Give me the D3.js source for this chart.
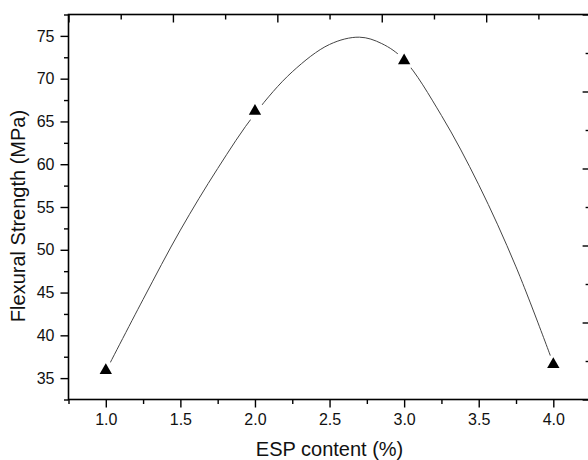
<!DOCTYPE html>
<html lang="en">
<head>
  <meta charset="UTF-8">
  <title>Flexural Strength</title>
  <style>
    body, html {
      margin: 0;
      padding: 0;
      background-color: #fff;
    }
    #svg text {
      font-family: 'Liberation Sans', Arial, Helvetica, sans-serif;
      fill: #111;
    }
  </style>
</head>
<body>
  <svg id="svg" width="588" height="460"></svg>
  <script src="https://d3js.org/d3.v7.min.js"></script>
  <script>
    // measured points (ESP content %, flexural strength MPa)
    const espContent = [1.0, 2.0, 3.0, 4.0]
    const strength = [35.9, 66.2, 72.1, 36.6]

    // smooth fit line
    const fitX = [1.0, 1.25, 1.5, 1.75, 2.0, 2.25, 2.5, 2.7, 2.85, 3.0, 3.25, 3.5, 3.75, 4.0]
    const fitY = [35.8, 44.2, 52.3, 59.5, 65.9, 70.8, 74.0, 74.85, 74.1, 72.2, 65.7, 57.6, 48.0, 36.7]

    // tick values
    const xMajor = [1.0, 1.5, 2.0, 2.5, 3.0, 3.5, 4.0]
    const xMinor = [0.75, 1.25, 1.75, 2.25, 2.75, 3.25, 3.75, 4.25]
    const yMajor = [35, 40, 45, 50, 55, 60, 65, 70, 75]
    const yMinor = [32.5, 37.5, 42.5, 47.5, 52.5, 57.5, 62.5, 67.5, 72.5, 77.5]

    const mLeft = 68.5, mRight = 590.6, mTop = 14.5, mBottom = 399.5

    const xScale = d3.scaleLinear().domain([0.75, 4.25]).range([mLeft, mRight])
    const yScale = d3.scaleLinear().domain([32.5, 77.5]).range([mBottom, mTop])

    // top / right axes have their own (linked) tick spacing
    const topTicks = d3.range(11).map(k => 0.75 + k * 0.35)
    const rightTicks = d3.range(11).map(k => 32.5 + k * 4.5)

    const svg = d3.select('#svg')

    // fit curve
    const line = d3.line()
      .x((d, i) => xScale(fitX[i]))
      .y(d => yScale(d))
      .curve(d3.curveCatmullRom)
    svg.append('path')
      .attr('d', line(fitY))
      .attr('fill', 'none')
      .attr('stroke', '#444')
      .attr('stroke-width', 1)

    // gap around symbols, then symbols
    const pts = espContent.map((x, i) => [x, strength[i]])
    svg.selectAll('circle.gap')
      .data(pts)
      .enter()
      .append('circle')
      .attr('class', 'gap')
      .attr('cx', d => xScale(d[0]))
      .attr('cy', d => yScale(d[1]))
      .attr('r', 9.5)
      .attr('fill', '#fff')
    svg.selectAll('path.pt')
      .data(pts)
      .enter()
      .append('path')
      .attr('class', 'pt')
      .attr('d', d3.symbol(d3.symbolTriangle, 66))
      .attr('transform', d => `translate(${xScale(d[0])}, ${yScale(d[1])})`)
      .attr('fill', '#000')

    function styleAxis(g) {
      g.select('.domain').remove()
      g.selectAll('line').attr('stroke', '#000').attr('stroke-width', 1.4)
      g.selectAll('text').style('font-size', '16px')
    }

    // bottom axis
    svg.append('g')
      .attr('transform', `translate(0, ${mBottom})`)
      .call(d3.axisBottom(xScale).tickValues(xMajor).tickSize(8).tickPadding(6).tickFormat(d3.format('.1f')))
      .call(styleAxis)
    svg.append('g')
      .attr('transform', `translate(0, ${mBottom})`)
      .call(d3.axisBottom(xScale).tickValues(xMinor).tickSize(4.5).tickFormat(''))
      .call(styleAxis)

    // left axis
    svg.append('g')
      .attr('transform', `translate(${mLeft}, 0)`)
      .call(d3.axisLeft(yScale).tickValues(yMajor).tickSize(8).tickPadding(6).tickFormat(d3.format('d')))
      .call(styleAxis)
    svg.append('g')
      .attr('transform', `translate(${mLeft}, 0)`)
      .call(d3.axisLeft(yScale).tickValues(yMinor).tickSize(4.5).tickFormat(''))
      .call(styleAxis)

    // top axis, ticks inward
    svg.append('g')
      .attr('transform', `translate(0, ${mTop})`)
      .call(d3.axisBottom(xScale).tickValues(topTicks.filter((d, i) => i % 2 === 0)).tickSize(8).tickFormat(''))
      .call(styleAxis)
    svg.append('g')
      .attr('transform', `translate(0, ${mTop})`)
      .call(d3.axisBottom(xScale).tickValues(topTicks.filter((d, i) => i % 2 === 1)).tickSize(5).tickFormat(''))
      .call(styleAxis)

    // right axis, ticks inward
    svg.append('g')
      .attr('transform', `translate(${mRight}, 0)`)
      .call(d3.axisLeft(yScale).tickValues(rightTicks.filter((d, i) => i % 2 === 0)).tickSize(8).tickFormat(''))
      .call(styleAxis)
    svg.append('g')
      .attr('transform', `translate(${mRight}, 0)`)
      .call(d3.axisLeft(yScale).tickValues(rightTicks.filter((d, i) => i % 2 === 1)).tickSize(5).tickFormat(''))
      .call(styleAxis)

    // frame
    svg.append('rect')
      .attr('x', mLeft)
      .attr('y', mTop)
      .attr('width', mRight - mLeft)
      .attr('height', mBottom - mTop)
      .attr('fill', 'none')
      .attr('stroke', '#000')
      .attr('stroke-width', 1.6)

    // titles
    svg.append('text')
      .attr('x', (mLeft + mRight) / 2)
      .attr('y', 456)
      .attr('text-anchor', 'middle')
      .style('font-size', '20px')
      .text('ESP content (%)')
    svg.append('text')
      .attr('transform', 'translate(25, 216) rotate(-90)')
      .attr('text-anchor', 'middle')
      .style('font-size', '20px')
      .text('Flexural Strength (MPa)')
  </script>
</body>
</html>
